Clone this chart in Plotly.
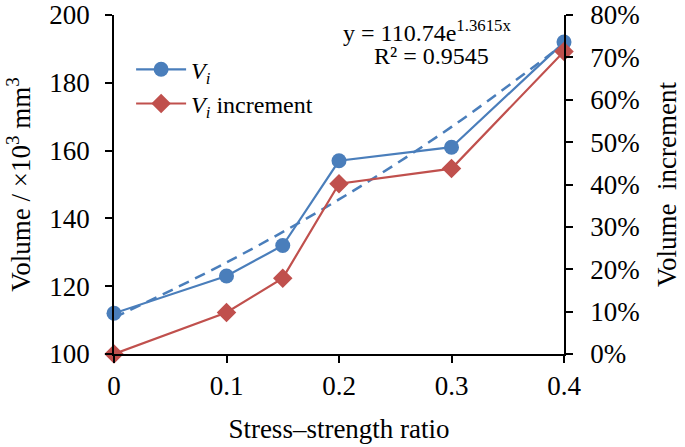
import plotly.graph_objects as go

# Data
ratio = [0, 0.1, 0.15, 0.2, 0.3, 0.4]
volume = [112, 123, 132, 157, 161, 192]            # x10^3 mm^3 (left axis)
increment = [0.0, 0.098, 0.179, 0.402, 0.4375, 0.714]  # right axis
trend_x = [0, 0.1, 0.2, 0.3, 0.4]
trend_y = [110.7, 127.0, 145.6, 167.0, 191.5]       # exponential trendline
x_ticks = [0, 0.1, 0.2, 0.3, 0.4]
x_ticktext = ["0", "0.1", "0.2", "0.3", "0.4"]

BLUE = "#4A7EBB"
RED = "#C0504D"
FONT = "Liberation Serif"

fig = go.Figure()
fig.add_trace(go.Scatter(
    x=trend_x, y=trend_y, mode="lines", line=dict(color=BLUE, width=2.5, dash="11px,7px", shape="spline"),
    showlegend=False, hoverinfo="skip", cliponaxis=False))
fig.add_trace(go.Scatter(
    x=ratio, y=volume, mode="lines+markers", name="<i>V<sub>i</sub></i>",
    line=dict(color=BLUE, width=2.2), marker=dict(symbol="circle", size=15, color=BLUE),
    cliponaxis=False))
fig.add_trace(go.Scatter(
    x=ratio, y=increment, mode="lines+markers", name="<i>V<sub>i</sub></i> increment", yaxis="y2",
    line=dict(color=RED, width=2.2), marker=dict(symbol="diamond", size=15, color=RED),
    cliponaxis=False))

axis_common = dict(showgrid=False, zeroline=False, showline=True, linecolor="black", linewidth=1.5,
                   ticks="outside", ticklen=7, tickwidth=1.5, tickcolor="black", automargin=False,
                   ticklabeloverflow="allow",
                   tickfont=dict(family=FONT, size=27, color="black"))

fig.update_layout(
    width=685, height=447,
    margin=dict(l=114, r=121, t=15, b=93),
    paper_bgcolor="white", plot_bgcolor="white",
    font=dict(family=FONT, size=24, color="black"),
    xaxis=dict(range=[0, 0.4], tickvals=x_ticks, ticktext=x_ticktext,
               title=dict(text="Stress–strength ratio", font=dict(family=FONT, size=27), standoff=19),
               **axis_common),
    yaxis=dict(range=[100, 200], dtick=20, ticklabelstandoff=10,
               title=dict(text="Volume / ×10<sup>3</sup> mm<sup>3</sup>", font=dict(family=FONT, size=27), standoff=11),
               **axis_common),
    yaxis2=dict(range=[0, 0.8], dtick=0.1, tickformat=".0%", overlaying="y", side="right", ticklabelstandoff=12,
                title=dict(text="Volume  increment", font=dict(family=FONT, size=27), standoff=18),
                **axis_common),
    legend=dict(x=0.038, y=0.905, xanchor="left", yanchor="top", bgcolor="rgba(0,0,0,0)",
                font=dict(family=FONT, size=24), tracegroupgap=0, itemwidth=50),
    annotations=[
        dict(x=0.505, y=0.952, xref="paper", yref="paper", xanchor="left", yanchor="middle",
             text="y = 110.74e<sup>1.3615x</sup>", showarrow=False, font=dict(family=FONT, size=24)),
        dict(x=0.705, y=0.88, xref="paper", yref="paper", xanchor="center", yanchor="middle",
             text="R² = 0.9545", showarrow=False, font=dict(family=FONT, size=24)),
    ],
)

fig.write_html("out.html", config={"displayModeBar": False},
               post_script="document.body.style.margin='0';")
